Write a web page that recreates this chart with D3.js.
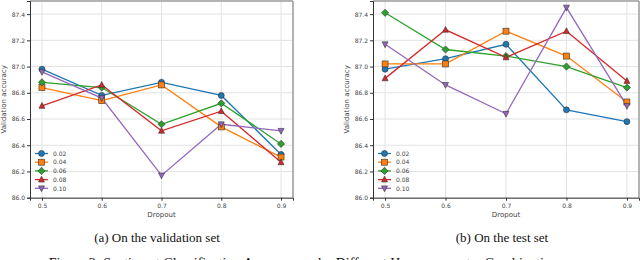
<!DOCTYPE html>
<html lang="en">
<head>
<meta charset="UTF-8">
<title>Dropout vs accuracy</title>
<style>
  body { margin: 0; background: #fff; }
  svg text { font-family: "DejaVu Sans", sans-serif; }
  .cap { font-family: "Liberation Serif", "Times New Roman", serif; }
</style>
</head>
<body>
<div id="chart"></div>
<script src="https://d3js.org/d3.v7.min.js"></script>
<script>
const width = 640, height = 260;

// data
const dropout = [0.5, 0.6, 0.7, 0.8, 0.9];
const rates = ["0.02", "0.04", "0.06", "0.08", "0.10"];
const colors = ["#1f77b4", "#ff7f0e", "#2ca02c", "#d62728", "#9467bd"];
const symbols = ["circle", "square", "diamond", "triUp", "triDown"];
const yTicks = [86.0, 86.2, 86.4, 86.6, 86.8, 87.0, 87.2, 87.4];

const valAcc = [
  [86.98, 86.78, 86.88, 86.78, 86.33],
  [86.84, 86.74, 86.86, 86.54, 86.31],
  [86.88, 86.84, 86.56, 86.72, 86.41],
  [86.70, 86.86, 86.51, 86.66, 86.27],
  [86.96, 86.76, 86.17, 86.56, 86.51]
];
const testAcc = [
  [86.98, 87.06, 87.17, 86.67, 86.58],
  [87.02, 87.02, 87.27, 87.08, 86.73],
  [87.41, 87.13, 87.08, 87.00, 86.84],
  [86.91, 87.28, 87.07, 87.27, 86.89],
  [87.17, 86.86, 86.64, 87.45, 86.70]
];

const svg = d3.select("#chart").append("svg")
  .attr("width", width).attr("height", height);

function marker(g, type, x, y, color) {
  const r = 3;
  let el;
  if (type === "circle") {
    el = g.append("circle").attr("cx", x).attr("cy", y).attr("r", r);
  } else if (type === "square") {
    el = g.append("rect").attr("x", x - r).attr("y", y - r).attr("width", 2 * r).attr("height", 2 * r);
  } else if (type === "diamond") {
    el = g.append("path").attr("d", `M${x},${y - 3.6}L${x + 3.6},${y}L${x},${y + 3.6}L${x - 3.6},${y}Z`);
  } else if (type === "triUp") {
    el = g.append("path").attr("d", `M${x},${y - 3.4}L${x + 3},${y + 2.4}L${x - 3},${y + 2.4}Z`);
  } else {
    el = g.append("path").attr("d", `M${x},${y + 3.4}L${x + 3},${y - 2.4}L${x - 3},${y - 2.4}Z`);
  }
  el.attr("fill", color).attr("stroke", "#333").attr("stroke-width", 0.6);
}

function drawPanel(left, right, data, caption, capX) {
  const top = 1, bottom = 197.7;
  const x = d3.scaleLinear().domain([0.48, 0.92]).range([left, right]);
  const y = d3.scaleLinear().domain([86.0, 87.5]).range([bottom, top]);
  const g = svg.append("g");

  // grid
  g.selectAll(".vg").data(dropout).enter().append("line")
    .attr("x1", d => x(d)).attr("x2", d => x(d))
    .attr("y1", top).attr("y2", bottom)
    .attr("stroke", "#e3e3e3").attr("stroke-width", 1);
  g.selectAll(".hg").data(yTicks).enter().append("line")
    .attr("x1", left).attr("x2", right)
    .attr("y1", d => y(d)).attr("y2", d => y(d))
    .attr("stroke", "#e3e3e3").attr("stroke-width", 1);

  // frame
  g.append("line").attr("x1", left).attr("x2", right).attr("y1", top).attr("y2", top)
    .attr("stroke", "#9a9a9a").attr("stroke-width", 1.5);
  g.append("line").attr("x1", right).attr("x2", right).attr("y1", top).attr("y2", bottom)
    .attr("stroke", "#9a9a9a").attr("stroke-width", 1.5);

  // axes
  const ax = g.append("g").attr("transform", `translate(0,${bottom})`)
    .call(d3.axisBottom(x).tickValues(dropout).tickFormat(d3.format(".1f")).tickSize(3).tickPadding(3));
  const ay = g.append("g").attr("transform", `translate(${left},0)`)
    .call(d3.axisLeft(y).tickValues(yTicks).tickFormat(d3.format(".1f")).tickSize(3).tickPadding(2));
  [ax, ay].forEach(a => {
    a.select(".domain").attr("stroke", "#333").attr("stroke-width", 1);
    a.selectAll(".tick line").attr("stroke", "#333");
    a.selectAll("text").attr("font-size", 6).attr("fill", "#444");
  });

  g.append("text").attr("x", (left + right) / 2).attr("y", 217)
    .attr("text-anchor", "middle").attr("font-size", 7).attr("fill", "#444").text("Dropout");
  g.append("text")
    .attr("transform", `translate(${left - 24},${(top + bottom) / 2}) rotate(-90)`)
    .attr("text-anchor", "middle").attr("font-size", 7).attr("fill", "#444").text("Validation accuracy");

  // series
  const line = d3.line().x((d, i) => x(dropout[i])).y(d => y(d));
  data.forEach((s, k) => {
    g.append("path").datum(s).attr("d", line)
      .attr("fill", "none").attr("stroke", colors[k]).attr("stroke-width", 1.3);
  });
  data.forEach((s, k) => {
    s.forEach((v, i) => marker(g, symbols[k], x(dropout[i]), y(v), colors[k]));
  });

  // legend
  const lg = g.append("g").attr("transform", `translate(${left + 5},153.5)`);
  rates.forEach((r, k) => {
    const yy = k * 8.7;
    lg.append("line").attr("x1", 0).attr("x2", 13).attr("y1", yy).attr("y2", yy)
      .attr("stroke", colors[k]).attr("stroke-width", 1.3);
    marker(lg, symbols[k], 6.5, yy, colors[k]);
    lg.append("text").attr("x", 18).attr("y", yy + 2.2)
      .attr("font-size", 6).attr("fill", "#444").text(r);
  });

  svg.append("text").attr("class", "cap").attr("x", capX).attr("y", 242)
    .attr("text-anchor", "middle").attr("font-size", 13).attr("fill", "#111").text(caption);
}

drawPanel(30, 293, valAcc, "(a) On the validation set", 157);
drawPanel(373, 639, testAcc, "(b) On the test set", 502);

svg.append("text").attr("class", "cap").attr("x", 306).attr("y", 268)
  .attr("text-anchor", "middle").attr("font-size", 14).attr("fill", "#111")
  .text("Figure 2: Sentiment Classification Accuracy under Different Hyperparameter Combinations");
</script>
</body>
</html>
